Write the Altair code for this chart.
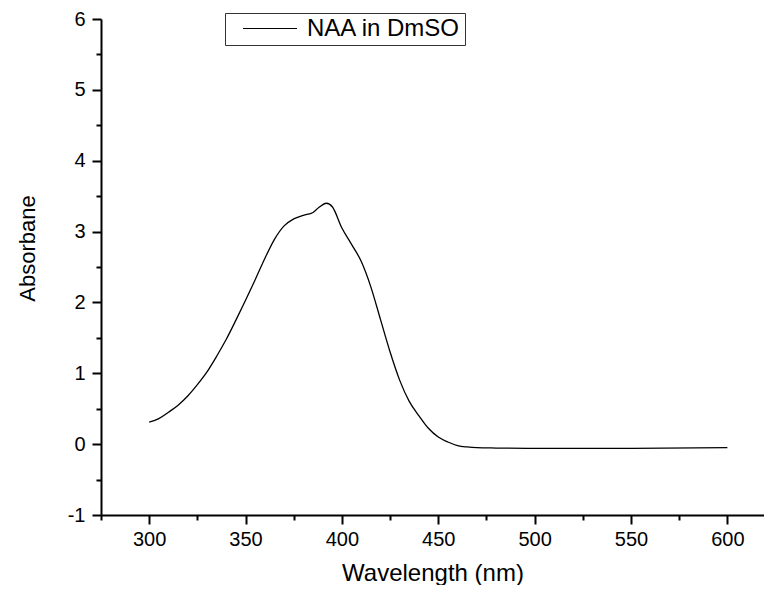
import altair as alt
import pandas as pd

wavelength = [300, 305, 310, 315, 320, 325, 330, 335, 340, 345, 350, 355, 360, 365,
              370, 375, 380, 385, 388, 392, 395, 400, 405, 410, 415, 420, 425, 430,
              435, 440, 445, 450, 455, 460, 465, 470, 480, 500, 550, 600]
absorbance = [0.31, 0.36, 0.45, 0.55, 0.68, 0.84, 1.02, 1.24, 1.48, 1.75, 2.03, 2.32,
              2.62, 2.89, 3.08, 3.18, 3.23, 3.27, 3.34, 3.40, 3.35, 3.05, 2.82, 2.58,
              2.22, 1.76, 1.30, 0.90, 0.60, 0.40, 0.22, 0.10, 0.03, -0.02, -0.04,
              -0.05, -0.055, -0.06, -0.06, -0.05]
series_name = "NAA in DmSO"

x_ticks = list(range(275, 620, 25))
y_ticks = [v / 2 for v in range(-2, 13)]

df = pd.DataFrame({"Wavelength": wavelength, "Absorbance": absorbance,
                   "series": [series_name] * len(wavelength)})

FONT = "Liberation Sans"

chart = alt.Chart(df).mark_line(strokeWidth=1.3, interpolate="monotone").encode(
    x=alt.X("Wavelength:Q",
            scale=alt.Scale(domain=[275, 619], nice=False, zero=False),
            axis=alt.Axis(
                title="Wavelength (nm)", values=x_ticks, grid=False,
                tickSize={"condition": {"test": "datum.value % 50 === 0", "value": 9}, "value": 5},
                labelExpr="datum.value % 50 === 0 ? datum.label : ''",
                labelPadding=5, labelFontSize=20, titleFontSize=24, titlePadding=12,
                titleFontWeight="normal", labelFont=FONT, titleFont=FONT,
                domainColor="black", domainWidth=2, tickColor="black", tickWidth=2,
                labelColor="black", titleColor="black", labelFlush=False,
                labelOverlap=False)),
    y=alt.Y("Absorbance:Q",
            scale=alt.Scale(domain=[-1, 6], nice=False, zero=False),
            axis=alt.Axis(
                title="Absorbane", values=y_ticks, grid=False,
                tickSize={"condition": {"test": "datum.value % 1 === 0", "value": 9}, "value": 5},
                labelExpr="datum.value % 1 === 0 ? '' + datum.value : ''",
                labelPadding=7, labelFontSize=20, titleFontSize=22, titlePadding=28,
                titleY=229,
                titleFontWeight="normal", labelFont=FONT, titleFont=FONT,
                domainColor="black", domainWidth=2, tickColor="black", tickWidth=2,
                labelColor="black", titleColor="black", labelFlush=False,
                labelOverlap=False)),
    color=alt.Color("series:N",
                    scale=alt.Scale(domain=[series_name], range=["black"]),
                    legend=alt.Legend(
                        orient="none", legendX=124, legendY=-6, title=None,
                        symbolType="stroke", symbolSize=2916, symbolStrokeWidth=1.2,
                        symbolOffset=13, labelOffset=9, clipHeight=23,
                        labelFontSize=24, labelFont=FONT, labelColor="black",
                        labelLimit=400,
                        strokeColor="#333", fillColor="white", padding=4)),
).properties(
    width=663, height=496,
    padding={"left": 93, "top": 11, "right": 0, "bottom": 70},
    autosize=alt.AutoSizeParams(type="none"),
).configure_view(stroke=None)

chart.save("out.html", embed_options={"renderer": "svg", "actions": False})
